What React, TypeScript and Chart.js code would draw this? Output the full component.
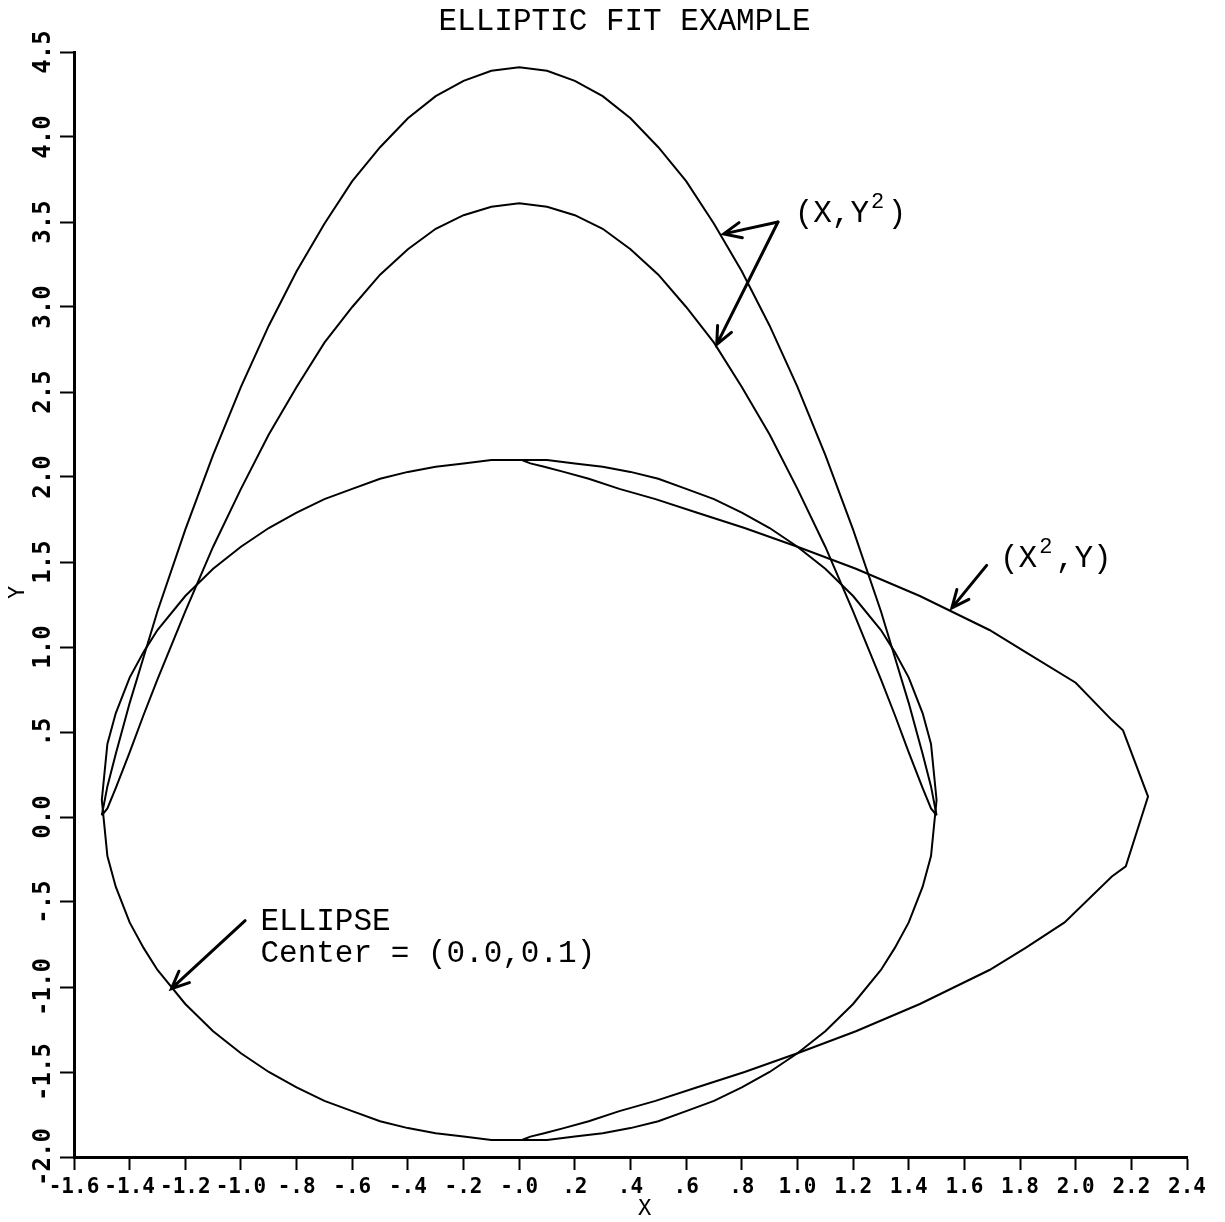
import React, { useEffect, useRef } from "react";
import { Chart, registerables } from "chart.js";

Chart.register(...registerables);

// ---------- data ----------
const chartTitle = "ELLIPTIC FIT EXAMPLE";
const xAxisTitle = "X";
const yAxisTitle = "Y";

const xTickLabels = ["-1.6", "-1.4", "-1.2", "-1.0", "-.8", "-.6", "-.4", "-.2", "-.0", ".2", ".4", ".6", ".8", "1.0", "1.2", "1.4", "1.6", "1.8", "2.0", "2.2", "2.4"];
const yTickLabels = ["-2.0", "-1.5", "-1.0", "-.5", "0.0", ".5", "1.0", "1.5", "2.0", "2.5", "3.0", "3.5", "4.0", "4.5"];

// ellipse, traced as a closed loop (upper half right->left, lower half left->right)
const ellipseX = [
  1.5, 1.48, 1.45, 1.4, 1.35, 1.3, 1.2, 1.1, 1.0, 0.9, 0.8, 0.7, 0.6, 0.5, 0.4, 0.3, 0.2, 0.1, 0.0,
  -0.1, -0.2, -0.3, -0.4, -0.5, -0.6, -0.7, -0.8, -0.9, -1.0, -1.1, -1.2, -1.3, -1.35, -1.4, -1.45, -1.48, -1.5,
  -1.48, -1.45, -1.4, -1.35, -1.3, -1.2, -1.1, -1.0, -0.9, -0.8, -0.7, -0.6, -0.5, -0.4, -0.3, -0.2, -0.1, 0.0,
  0.1, 0.2, 0.3, 0.4, 0.5, 0.6, 0.7, 0.8, 0.9, 1.0, 1.1, 1.2, 1.3, 1.35, 1.4, 1.45, 1.48, 1.5,
];
const ellipseY = [
  0.10, 0.43, 0.61, 0.82, 0.97, 1.10, 1.30, 1.46, 1.59, 1.70, 1.79, 1.87, 1.93, 1.99, 2.03, 2.06, 2.08, 2.10, 2.10,
  2.10, 2.08, 2.06, 2.03, 1.99, 1.93, 1.87, 1.79, 1.70, 1.59, 1.46, 1.30, 1.10, 0.97, 0.82, 0.61, 0.43, 0.10,
  -0.23, -0.41, -0.62, -0.77, -0.90, -1.10, -1.26, -1.39, -1.50, -1.59, -1.67, -1.73, -1.79, -1.83, -1.86, -1.88, -1.90, -1.90,
  -1.90, -1.88, -1.86, -1.83, -1.79, -1.73, -1.67, -1.59, -1.50, -1.39, -1.26, -1.10, -0.90, -0.77, -0.62, -0.41, -0.23, 0.10,
];

// (X, Y^2) arches
const archX = [
  -1.5, -1.48, -1.45, -1.4, -1.35, -1.3, -1.2, -1.1, -1.0, -0.9, -0.8, -0.7, -0.6, -0.5, -0.4, -0.3, -0.2, -0.1, 0.0,
  0.1, 0.2, 0.3, 0.4, 0.5, 0.6, 0.7, 0.8, 0.9, 1.0, 1.1, 1.2, 1.3, 1.35, 1.4, 1.45, 1.48, 1.5,
];
const outerArchY = [
  0.01, 0.18, 0.37, 0.67, 0.94, 1.21, 1.69, 2.13, 2.53, 2.89, 3.21, 3.49, 3.74, 3.94, 4.11, 4.24, 4.33, 4.39, 4.41,
  4.39, 4.33, 4.24, 4.11, 3.94, 3.74, 3.49, 3.21, 2.89, 2.53, 2.13, 1.69, 1.21, 0.94, 0.67, 0.37, 0.18, 0.01,
];
const innerArchY = [
  0.01, 0.05, 0.17, 0.38, 0.60, 0.81, 1.21, 1.59, 1.93, 2.25, 2.53, 2.79, 3.00, 3.19, 3.34, 3.46, 3.54, 3.59, 3.61,
  3.59, 3.54, 3.46, 3.34, 3.19, 3.00, 2.79, 2.53, 2.25, 1.93, 1.59, 1.21, 0.81, 0.60, 0.38, 0.17, 0.05, 0.01,
];

// (X^2, Y) curve
const sqX = [
  0.00, 0.01, 0.04, 0.09, 0.16, 0.25, 0.36, 0.49, 0.64, 0.81, 1.00, 1.21, 1.44, 1.69, 1.82, 2.00, 2.13, 2.17, 2.26,
  2.18, 2.13, 1.96, 1.82, 1.69, 1.44, 1.21, 1.00, 0.81, 0.64, 0.49, 0.36, 0.25, 0.16, 0.09, 0.04, 0.01, 0.00,
];
const sqY = [
  2.10, 2.10, 2.08, 2.06, 2.03, 1.99, 1.93, 1.87, 1.79, 1.70, 1.59, 1.46, 1.30, 1.10, 0.97, 0.79, 0.57, 0.51, 0.12,
  -0.29, -0.35, -0.62, -0.77, -0.90, -1.10, -1.26, -1.39, -1.50, -1.59, -1.67, -1.73, -1.79, -1.83, -1.86, -1.88, -1.90, -1.90,
];

const zip = (xs: number[], ys: number[]) => xs.map((x, i) => ({ x, y: ys[i] }));

const MONO = "'Liberation Mono', 'DejaVu Sans Mono', monospace";
const TICKFONT = "'DejaVu Sans Mono', monospace";

const overlayPlugin = {
  id: "overlay",
  afterDraw(chart: any) {
    const { ctx, chartArea } = chart;
    const xs = chart.scales.x;
    const ys = chart.scales.y;
    const px = (v: number) => xs.getPixelForValue(v);
    const py = (v: number) => ys.getPixelForValue(v);
    ctx.save();
    ctx.fillStyle = "#000";
    ctx.strokeStyle = "#000";

    // title
    ctx.font = "31px " + MONO;
    ctx.textAlign = "center";
    ctx.textBaseline = "alphabetic";
    ctx.fillText(chartTitle, (chartArea.left + chartArea.right) / 2 - 6, chartArea.top - 22);

    // y tick labels (rotated)
    ctx.font = "bold 24px " + TICKFONT;
    ys.ticks.forEach((t: any, i: number) => {
      const y = py(t.value);
      ctx.save();
      ctx.translate(chartArea.left - 30, y);
      ctx.rotate(-Math.PI / 2);
      ctx.textAlign = "center";
      ctx.textBaseline = "middle";
      ctx.fillText(yTickLabels[i] ?? "", 0, 0);
      ctx.restore();
    });

    // axis titles
    ctx.font = "22px " + TICKFONT;
    ctx.textAlign = "center";
    ctx.textBaseline = "middle";
    ctx.fillText(xAxisTitle, (chartArea.left + chartArea.right) / 2 + 14, chartArea.bottom + 52);
    ctx.save();
    ctx.translate(chartArea.left - 56, (chartArea.top + chartArea.bottom) / 2 - 12);
    ctx.rotate(-Math.PI / 2);
    ctx.fillText(yAxisTitle, 0, 0);
    ctx.restore();

    // arrows
    const arrow = (x1: number, y1: number, x2: number, y2: number) => {
      const ax = px(x1), ay = py(y1), bx = px(x2), by = py(y2);
      ctx.lineWidth = 3;
      ctx.lineCap = "round";
      ctx.beginPath();
      ctx.moveTo(ax, ay);
      ctx.lineTo(bx, by);
      const ang = Math.atan2(by - ay, bx - ax);
      const L = 19, a = 0.42;
      ctx.moveTo(bx - L * Math.cos(ang - a), by - L * Math.sin(ang - a));
      ctx.lineTo(bx, by);
      ctx.lineTo(bx - L * Math.cos(ang + a), by - L * Math.sin(ang + a));
      ctx.stroke();
    };
    arrow(0.93, 3.5, 0.735, 3.43);
    arrow(0.93, 3.5, 0.71, 2.78);
    arrow(1.68, 1.48, 1.555, 1.23);
    arrow(-0.985, -0.61, -1.25, -1.01);

    // annotation texts
    const cell = 18.6;
    const drawParts = (x: number, y: number, parts: [string, boolean][]) => {
      let cx = px(x);
      const by = py(y);
      ctx.textAlign = "left";
      ctx.textBaseline = "alphabetic";
      parts.forEach(([s, sup]) => {
        if (sup) {
          ctx.font = "22px " + MONO;
          ctx.fillText(s, cx + 2, by - 14);
        } else {
          ctx.font = "31px " + MONO;
          ctx.fillText(s, cx, by);
        }
        cx += s.length * cell;
      });
    };
    drawParts(0.99, 3.5, [["(X,Y", false], ["2", true], [")", false]]);
    drawParts(1.728, 1.47, [["(X", false], ["2", true], [",Y)", false]]);
    drawParts(-0.93, -0.665, [["ELLIPSE", false]]);
    drawParts(-0.93, -0.853, [["Center = (0.0,0.1)", false]]);

    ctx.restore();
  },
};

export default function App() {
  const ref = useRef<HTMLCanvasElement | null>(null);
  useEffect(() => {
    if (!ref.current) return;
    const line = (data: { x: number; y: number }[]) => ({
      data,
      showLine: true,
      borderColor: "#000",
      backgroundColor: "#000",
      borderWidth: 2,
      pointRadius: 0,
      tension: 0,
      fill: false,
    });
    const chart = new Chart(ref.current, {
      type: "scatter",
      data: {
        datasets: [
          line(zip(ellipseX, ellipseY)),
          line(zip(archX, outerArchY)),
          line(zip(archX, innerArchY)),
          line(zip(sqX, sqY)),
        ] as any,
      },
      options: {
        responsive: false,
        animation: false,
        devicePixelRatio: 1,
        layout: { padding: { left: 0, right: 38, top: 52, bottom: 0 } },
        plugins: {
          legend: { display: false },
          tooltip: { enabled: false },
          title: { display: false },
        },
        scales: {
          x: {
            type: "linear",
            min: -1.6,
            max: 2.4,
            ticks: {
              stepSize: 0.2,
              autoSkip: false,
              maxRotation: 0,
              minRotation: 0,
              padding: 5,
              color: "#000",
              font: { family: "'DejaVu Sans Mono', monospace", size: 21, weight: "bold" },
              callback: (_v: any, i: number) => xTickLabels[i] ?? "",
            },
            grid: { drawOnChartArea: false, drawTicks: true, tickLength: 13, tickWidth: 2, tickColor: "#000" },
            border: { display: true, color: "#000", width: 3 },
            afterFit: (s: any) => {
              s.height = 65;
            },
          },
          y: {
            type: "linear",
            min: -2,
            max: 4.5,
            ticks: { stepSize: 0.5, display: false },
            grid: { drawOnChartArea: false, drawTicks: true, tickLength: 14, tickWidth: 2, tickColor: "#000" },
            border: { display: true, color: "#000", width: 3 },
            afterFit: (s: any) => {
              s.width = 74;
            },
          },
        } as any,
      },
      plugins: [overlayPlugin],
    });
    return () => chart.destroy();
  }, []);
  return (
    <canvas
      ref={ref}
      width={1225}
      height={1222}
      style={{ position: "absolute", left: 0, top: 0, width: 1225, height: 1222, display: "block", background: "#fff" }}
    />
  );
}
